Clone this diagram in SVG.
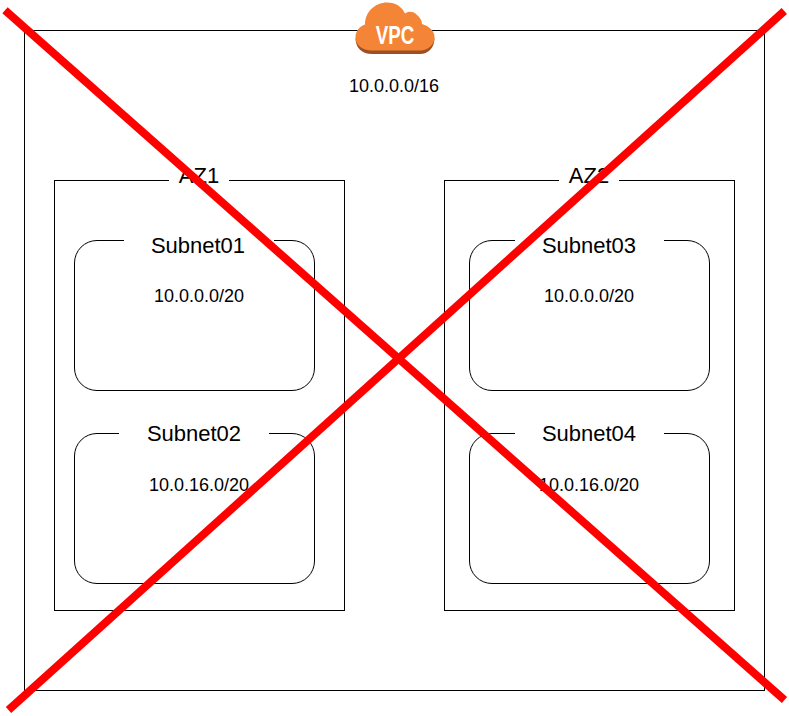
<svg xmlns="http://www.w3.org/2000/svg" width="789" height="716" viewBox="0 0 789 716">
<style>
text{font-family:"Liberation Sans",Arial,sans-serif;fill:#000;text-anchor:middle}
.box{fill:#fff;stroke:#000;stroke-width:1}
.sub{fill:#fff;stroke:#000;stroke-width:1}
.mask{fill:#fff;stroke:none}
.t1{font-size:22px}
.t2{font-size:18px}
.x{fill:none;stroke:#f00;stroke-width:8}
</style>
<rect width="789" height="716" fill="#fff"/>
<g id="vpc">
<rect class="box" x="24.5" y="30.5" width="740" height="660"/>
<text class="t2" x="394" y="92">10.0.0.0/16</text>
</g>
<g id="vpc-icon">
<path fill="#9d5025" d="M372 54C362 54 355.5 48 355.5 38L434.5 38C434.5 48 428 54 420 54Z"/>
<path fill="#f58536" d="M372 50.5C362 50.5 355.5 45 355.5 37C355.5 31 360 26 365 24.5C365 12 375 2.5 387 2.5C396 2.5 402 7 405 13.5C408 11 413 11 416 14C420 17 422 21 422 24C429 26 434.5 31 434.5 37C434.5 45 428 50.5 420 50.5Z"/>
<text transform="translate(395 44) scale(.72 1)" font-size="26" font-weight="bold" style="fill:#fff">VPC</text>
</g>
<g id="az1">
<rect class="box" x="54.5" y="180.5" width="290" height="430"/>
<rect class="mask" x="169" y="170" width="60" height="20"/>
<text class="t1" x="199" y="183">AZ1</text>
</g>
<g id="az2">
<rect class="box" x="444.5" y="180.5" width="290" height="430"/>
<rect class="mask" x="559" y="170" width="60" height="20"/>
<text class="t1" x="589" y="183">AZ2</text>
</g>
<g id="subnet01">
<rect class="sub" x="74.5" y="240.5" width="240" height="150" rx="22.5"/>
<rect class="mask" x="124" y="232" width="150" height="20"/>
<text class="t1" x="198" y="253">Subnet01</text>
<text class="t2" x="199" y="302">10.0.0.0/20</text>
</g>
<g id="subnet02">
<rect class="sub" x="74.5" y="433.5" width="240" height="150" rx="22.5"/>
<rect class="mask" x="119" y="425" width="150" height="20"/>
<text class="t1" x="194" y="441">Subnet02</text>
<text class="t2" x="199" y="491">10.0.16.0/20</text>
</g>
<g id="subnet03">
<rect class="sub" x="469.5" y="240.5" width="240" height="150" rx="22.5"/>
<rect class="mask" x="515" y="232" width="149" height="20"/>
<text class="t1" x="589" y="253">Subnet03</text>
<text class="t2" x="589" y="302">10.0.0.0/20</text>
</g>
<g id="subnet04">
<rect class="sub" x="469.5" y="433.5" width="240" height="150" rx="22.5"/>
<rect class="mask" x="515" y="425" width="149" height="20"/>
<text class="t1" x="589" y="441">Subnet04</text>
<text class="t2" x="589" y="491">10.0.16.0/20</text>
</g>
<g id="connectors">
<line class="x" x1="5" y1="10.3" x2="784.5" y2="700"/>
<line class="x" x1="8.5" y1="710" x2="784.3" y2="11"/>
</g>
</svg>
